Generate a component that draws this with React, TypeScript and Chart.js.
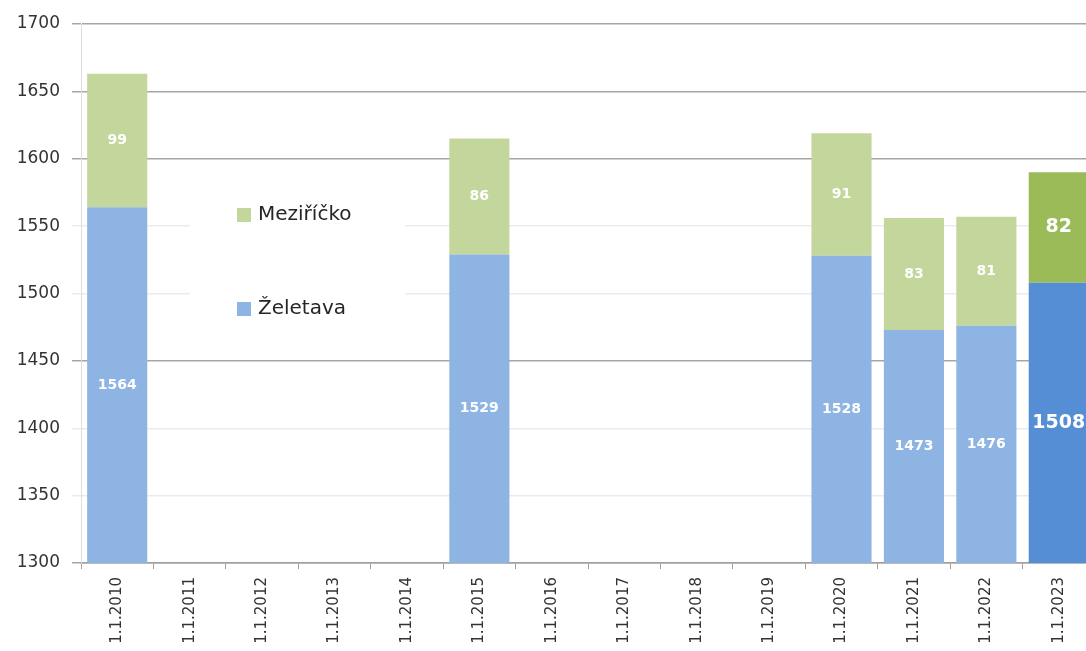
import React, { useEffect, useRef } from 'react';
import { Chart, registerables } from 'chart.js';

Chart.register(...registerables);

const categories = [
  '1.1.2010', '1.1.2011', '1.1.2012', '1.1.2013', '1.1.2014', '1.1.2015', '1.1.2016',
  '1.1.2017', '1.1.2018', '1.1.2019', '1.1.2020', '1.1.2021', '1.1.2022', '1.1.2023',
];
const zeletava: (number | null)[] = [1564, null, null, null, null, 1529, null, null, null, null, 1528, 1473, 1476, 1508];
const mezioricko: (number | null)[] = [99, null, null, null, null, 86, null, null, null, null, 91, 83, 81, 82];
const seriesNames = ['Želetava', 'Meziříčko'];
const yMin = 1300;
const yMax = 1700;
const yStep = 50;
const darkGridValues = [1700, 1650, 1600, 1450, 1300];

const FONT = '"DejaVu Sans"';
const BLUE = '#8EB4E3';
const BLUE_HI = '#558ED5';
const GREEN = '#C3D69B';
const GREEN_HI = '#9BBB59';
const LAST = categories.length - 1;

const segLabels = {
  id: 'segLabels',
  afterDatasetsDraw(chart: any) {
    const ctx = chart.ctx;
    const area = chart.chartArea;
    chart.data.datasets.forEach((ds: any, di: number) => {
      const meta = chart.getDatasetMeta(di);
      meta.data.forEach((el: any, i: number) => {
        const v = ds.data[i];
        if (v == null) return;
        const p = el.getProps(['x', 'y', 'base'], true);
        const top = Math.max(Math.min(p.y, p.base), area.top);
        const bottom = Math.min(Math.max(p.y, p.base), area.bottom);
        const cy = (top + bottom) / 2;
        ctx.save();
        ctx.fillStyle = '#ffffff';
        ctx.font = i === LAST ? `bold 19px ${FONT}` : `bold 14px ${FONT}`;
        ctx.textAlign = 'center';
        ctx.textBaseline = 'middle';
        ctx.fillText(String(v), p.x, cy);
        ctx.restore();
      });
    });
  },
};

const customLegend = {
  id: 'customLegend',
  afterDraw(chart: any) {
    const ctx = chart.ctx;
    ctx.save();
    ctx.fillStyle = '#ffffff';
    ctx.fillRect(190, 180, 215, 160);
    const items = [
      { text: seriesNames[1], color: GREEN, y: 215 },
      { text: seriesNames[0], color: BLUE, y: 309 },
    ];
    items.forEach((it) => {
      ctx.fillStyle = it.color;
      ctx.fillRect(237, it.y - 7, 14, 14);
      ctx.fillStyle = '#262626';
      ctx.font = `20px ${FONT}`;
      ctx.textAlign = 'left';
      ctx.textBaseline = 'middle';
      ctx.fillText(it.text, 258, it.y);
    });
    ctx.restore();
  },
};

export default function App() {
  const ref = useRef<HTMLCanvasElement>(null);
  useEffect(() => {
    if (!ref.current) return;
    const chart = new Chart(ref.current, {
      type: 'bar',
      data: {
        labels: categories,
        datasets: [
          {
            label: seriesNames[0],
            data: zeletava,
            backgroundColor: (c: any) => (c.dataIndex === LAST ? BLUE_HI : BLUE),
            barPercentage: 0.83,
            categoryPercentage: 1,
          },
          {
            label: seriesNames[1],
            data: mezioricko,
            backgroundColor: (c: any) => (c.dataIndex === LAST ? GREEN_HI : GREEN),
            barPercentage: 0.83,
            categoryPercentage: 1,
          },
        ],
      },
      options: {
        responsive: false,
        animation: false,
        devicePixelRatio: 1,
        layout: { padding: { top: 24, right: 15, left: 0, bottom: 0 } },
        plugins: {
          legend: { display: false },
          tooltip: { enabled: false },
        },
        scales: {
          x: {
            stacked: true,
            offset: true,
            grid: {
              display: true,
              drawOnChartArea: false,
              drawTicks: true,
              tickLength: 6,
              color: '#A0A0A0',
              offset: true,
            },
            border: { display: true, color: '#A0A0A0', width: 1.5 },
            ticks: {
              minRotation: 90,
              maxRotation: 90,
              autoSkip: false,
              padding: 8,
              color: '#333333',
              font: { family: 'DejaVu Sans', size: 15 },
            },
            afterFit: (s: any) => {
              s.height = 88;
            },
          },
          y: {
            stacked: true,
            min: yMin,
            max: yMax,
            ticks: {
              stepSize: yStep,
              padding: 12,
              color: '#333333',
              font: { family: 'DejaVu Sans', size: 17 },
              callback: (v: any) => String(v),
            },
            grid: {
              tickLength: 9,
              lineWidth: 1.5,
              color: (c: any) =>
                c.tick && darkGridValues.includes(c.tick.value) ? '#A6A6A6' : '#EBEBEB',
            },
            border: { display: true, color: '#DDDDDD', width: 1 },
            afterFit: (s: any) => {
              s.width = 81;
            },
          },
        },
      },
      plugins: [segLabels, customLegend],
    });
    return () => chart.destroy();
  }, []);
  return (
    <div
      style={{
        position: 'fixed',
        left: 0,
        top: 0,
        width: 1086,
        height: 651,
        overflow: 'hidden',
        background: '#ffffff',
      }}
    >
      <canvas ref={ref} width={1110} height={651} style={{ display: 'block' }} />
    </div>
  );
}
